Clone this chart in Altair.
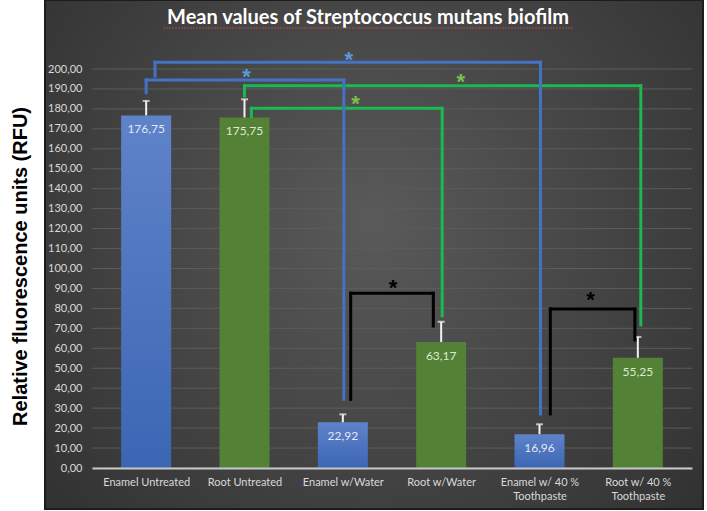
import altair as alt
import pandas as pd

# ---------------- data ----------------
chart_title = "Mean values of Streptococcus mutans biofilm"
tick_labels = ["Enamel Untreated", "Root Untreated", "Enamel w/Water", "Root w/Water",
               "Enamel w/ 40 %|Toothpaste", "Root w/ 40 %|Toothpaste"]
surface = ["Enamel", "Root", "Enamel", "Root", "Enamel", "Root"]
means = [176.75, 175.75, 22.92, 63.17, 16.96, 55.25]
errors = [7.25, 9.05, 3.98, 10.13, 4.94, 10.45]
y_ticks = list(range(0, 201, 10))

# significance brackets (x in category units, y in RFU)
br_kind = ["enamel", "enamel", "root", "root", "pair", "pair"]
br_from = [0.09, 0.0, 1.0, 1.07, 2.08, 4.11]
br_to = [4.01, 2.01, 5.03, 3.01, 2.92, 4.97]
br_left_end = [196.5, 188.1, 186.5, 176.1, 34.4, 27.1]
br_top = [203.4, 194.5, 191.6, 180.3, 87.6, 79.7]
br_right_end = [27.1, 34.4, 71.7, 76.2, 71.2, 64.2]
star_x = [2.06, 1.02, 3.2, 2.13, 2.51, 4.52]
star_y = [207.0, 198.3, 196.0, 185.0, 92.6, 86.7]

# ---------------- tables ----------------
bars = pd.DataFrame({
    "idx": list(range(len(means))),
    "value": means,
    "err": errors,
    "surface": surface,
})
brackets = pd.DataFrame({
    "kind": br_kind, "x1": br_from, "x2": br_to,
    "yl": br_left_end, "yt": br_top, "yr": br_right_end,
    "sx": star_x, "sy": star_y,
})
grid = pd.DataFrame({"g": y_ticks})
one = pd.DataFrame({"t": [chart_title]})

W, H = 600, 399
FONT = "Lato"

xs = alt.Scale(domain=[-0.5, 5.5], nice=False, zero=False)
ys = alt.Scale(domain=[0, 200], nice=False)

label_array = "[" + ",".join("'" + t + "'" for t in tick_labels) + "]"

x_axis = alt.Axis(
    values=list(range(len(tick_labels))),
    labelExpr="split(" + label_array + "[datum.value], '|')",
    title=None, grid=False, ticks=False,
    domainColor="#c8c8c8", domainWidth=2,
    labelColor="#d9d9d9", labelFont=FONT, labelFontSize=11,
    labelPadding=8, labelLineHeight=14, labelOverlap=False, zindex=1,
)
y_axis = alt.Axis(
    values=y_ticks,
    labelExpr="replace(format(datum.value, '.2f'), '.', ',')",
    grid=False, ticks=False, domain=False, labelOverlap=False,
    labelColor="#d9d9d9", labelFont=FONT, labelFontSize=11, labelPadding=10,
    title="Relative fluorescence units (RFU)",
    titleColor="#000000", titleFont="Liberation Sans", titleFontSize=20,
    titleFontWeight="bold", titleX=-66, titleY=197, titleAngle=-90,
    titleAlign="center", titleBaseline="alphabetic", zindex=1,
)


def X(field):
    return alt.X(field, scale=xs, axis=x_axis)


def Y(field):
    return alt.Y(field, scale=ys, axis=y_axis)


panel = alt.Chart(one).mark_rect(
    fill=alt.Gradient(
        gradient="radial",
        stops=[alt.GradientStop(color="#5a5a5a", offset=0),
               alt.GradientStop(color="#2c2c2c", offset=1)],
        x1=0.5, y1=0.45, r1=0, x2=0.5, y2=0.45, r2=0.75,
    ),
    stroke="#1c1c1c", strokeWidth=2,
).encode(x=alt.value(-47), x2=alt.value(611), y=alt.value(-69), y2=alt.value(440))

gridlines = alt.Chart(grid).mark_rule(color="#5c5c5c", strokeWidth=1).encode(
    y=Y("g:Q"), x=alt.value(0), x2=alt.value(W),
)

blue_grad = alt.Gradient(
    gradient="linear",
    stops=[alt.GradientStop(color="#5f83c9", offset=0),
           alt.GradientStop(color="#3c66b4", offset=1)],
    x1=0, y1=0, x2=0, y2=1,
)

bars_blue = alt.Chart(bars).transform_filter("datum.surface == 'Enamel'").mark_bar(
    size=50, fill=blue_grad
).encode(x=X("idx:Q"), y=Y("value:Q"))

bars_green = alt.Chart(bars).transform_filter("datum.surface == 'Root'").mark_bar(
    size=50, fill="#538135"
).encode(x=X("idx:Q"), y=Y("value:Q"))

labels = alt.Chart(bars).transform_calculate(
    lab="replace(format(datum.value, '.2f'), '.', ',')"
).mark_text(font=FONT, fontSize=12, dy=14, baseline="middle").encode(
    x=X("idx:Q"), y=Y("value:Q"),
    text="lab:N",
    color=alt.Color("surface:N", scale=alt.Scale(domain=["Enamel", "Root"],
                                                 range=["#e3e8f4", "#dfe8d2"]), legend=None),
)

err_base = alt.Chart(bars).transform_calculate(top="datum.value + datum.err")
err_rule = err_base.mark_rule(color="#f2f2f2", strokeWidth=2).encode(
    x=X("idx:Q"), y=Y("value:Q"), y2="top:Q")
err_cap = err_base.mark_tick(color="#f2f2f2", orient="horizontal", size=7, thickness=2).encode(
    x=X("idx:Q"), y=Y("top:Q"))

line_colors = alt.Scale(domain=["enamel", "root", "pair"], range=["#4472c4", "#1cb852", "#000000"])
star_colors = alt.Scale(domain=["enamel", "root", "pair"], range=["#5b9bd5", "#7dbf4a", "#000000"])

bb = alt.Chart(brackets)
leg_left = bb.mark_rule(strokeWidth=3, strokeCap="square").encode(
    x=X("x1:Q"), y=Y("yl:Q"), y2="yt:Q",
    color=alt.Color("kind:N", scale=line_colors, legend=None))
leg_top = bb.mark_rule(strokeWidth=3, strokeCap="square").encode(
    x=X("x1:Q"), x2="x2:Q", y=Y("yt:Q"),
    color=alt.Color("kind:N", scale=line_colors, legend=None))
leg_right = bb.mark_rule(strokeWidth=3, strokeCap="square").encode(
    x=X("x2:Q"), y=Y("yr:Q"), y2="yt:Q",
    color=alt.Color("kind:N", scale=line_colors, legend=None))
stars = bb.mark_text(text="*", font="Liberation Sans", fontSize=22, fontWeight="bold",
                     baseline="middle", dy=5).encode(
    x=X("sx:Q"), y=Y("sy:Q"),
    fill=alt.Fill("kind:N", scale=star_colors, legend=None))

# chart title (drawn as text so it sits inside the dark panel) and its underline
title_mark = alt.Chart(one).mark_text(
    font=FONT, fontSize=20, fontWeight="bold", color="#ffffff", baseline="alphabetic",
    align="center",
).encode(text="t:N", x=alt.value(276), y=alt.value(-45))

underline = alt.Chart(one).mark_rule(color="#c0504d", strokeWidth=1, strokeDash=[2, 1],
                                     opacity=0.8).encode(
    x=alt.value(71), x2=alt.value(481), y=alt.value(-41))

chart = alt.layer(
    panel, gridlines, bars_blue, bars_green, labels, err_rule, err_cap,
    leg_left, leg_top, leg_right, stars, title_mark, underline,
).resolve_scale(color="independent", fill="independent").properties(
    width=W, height=H,
    padding={"left": 92, "top": 69, "right": 15, "bottom": 43},
    autosize=alt.AutoSizeParams(type="none"),
).configure(background="#ffffff").configure_view(stroke=None).configure_axisY(
    labelOverlap=False
)

chart.save("out.html", embed_options={"renderer": "svg", "actions": False})
